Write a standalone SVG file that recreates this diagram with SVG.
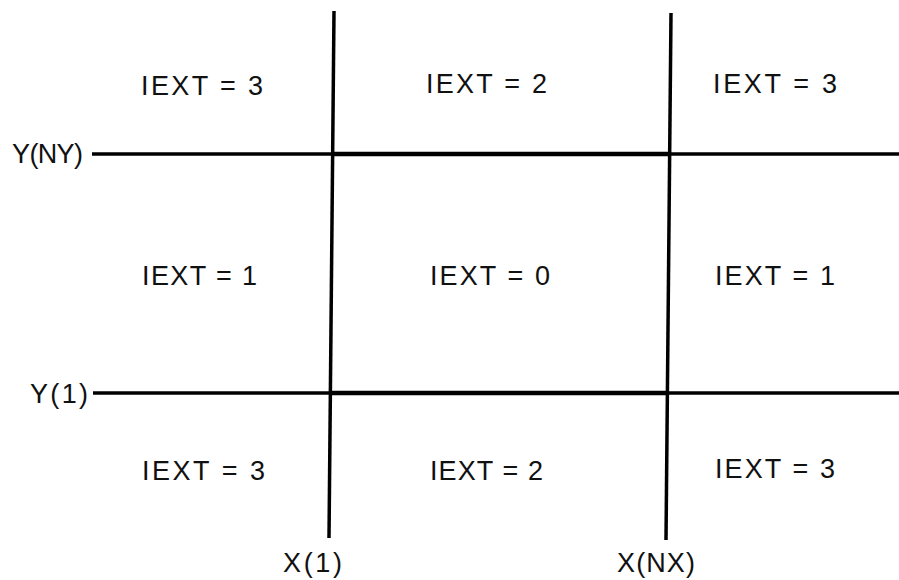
<svg xmlns="http://www.w3.org/2000/svg" width="899" height="580" viewBox="0 0 899 580">
<style>
.ln{stroke:#000;stroke-width:3.5;fill:none;stroke-linecap:butt}
.t{font-family:"Liberation Sans","DejaVu Sans",sans-serif;font-size:27px;fill:#111}
</style>
<rect width="899" height="580" fill="#fff"/>
<g id="connectors">
<line class="ln" x1="334" y1="11" x2="329" y2="538"/>
<line class="ln" x1="671" y1="13" x2="666" y2="540"/>
<line class="ln" x1="92" y1="154" x2="899" y2="154"/>
<line class="ln" x1="332" y1="154" x2="670" y2="154" style="stroke-width:4.5"/>
<line class="ln" x1="93" y1="393" x2="899" y2="393"/>
<line class="ln" x1="332" y1="393" x2="668" y2="393" style="stroke-width:4.5"/>
</g>
<g id="labels">
<text class="t" x="12" y="163" textLength="71" lengthAdjust="spacing">Y(NY)</text>
<text class="t" x="30" y="403" textLength="58" lengthAdjust="spacing">Y(1)</text>
<text class="t" x="283" y="572" textLength="59" lengthAdjust="spacing">X(1)</text>
<text class="t" x="617" y="572" textLength="78" lengthAdjust="spacing">X(NX)</text>
</g>
<g id="r1c1"><text class="t" x="141" y="95" textLength="122" lengthAdjust="spacing">IEXT = 3</text></g>
<g id="r1c2"><text class="t" x="426" y="93" textLength="121" lengthAdjust="spacing">IEXT = 2</text></g>
<g id="r1c3"><text class="t" x="713" y="93" textLength="124" lengthAdjust="spacing">IEXT = 3</text></g>
<g id="r2c1"><text class="t" x="142" y="285" textLength="115" lengthAdjust="spacing">IEXT = 1</text></g>
<g id="r2c2"><text class="t" x="430" y="285" textLength="120" lengthAdjust="spacing">IEXT = 0</text></g>
<g id="r2c3"><text class="t" x="715" y="285" textLength="120" lengthAdjust="spacing">IEXT = 1</text></g>
<g id="r3c1"><text class="t" x="142" y="480" textLength="123" lengthAdjust="spacing">IEXT = 3</text></g>
<g id="r3c2"><text class="t" x="430" y="480" textLength="113" lengthAdjust="spacing">IEXT = 2</text></g>
<g id="r3c3"><text class="t" x="715" y="478" textLength="120" lengthAdjust="spacing">IEXT = 3</text></g>
</svg>
